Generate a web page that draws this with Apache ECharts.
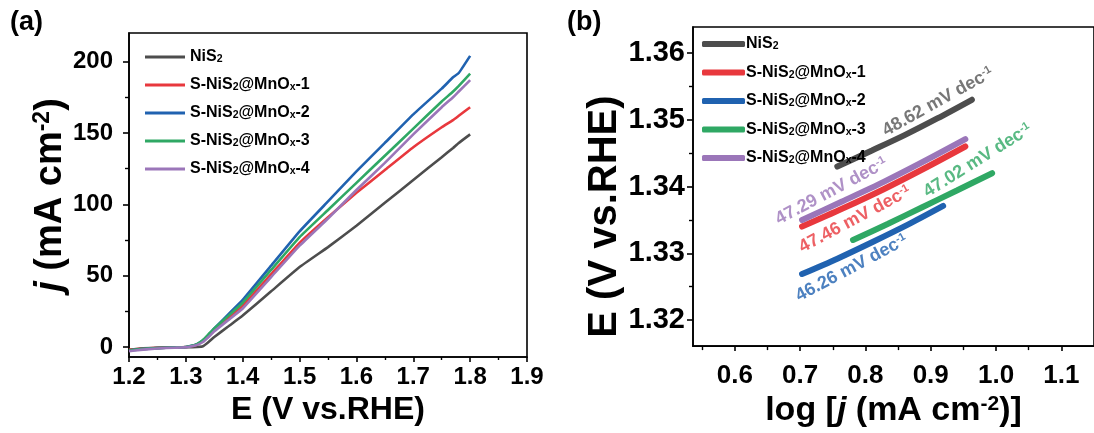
<!DOCTYPE html>
<html><head><meta charset="utf-8">
<script src="https://cdn.jsdelivr.net/npm/echarts@6/dist/echarts.min.js"></script>
<style>html,body{margin:0;padding:0;background:#fff}#c{width:1094px;height:433px}</style>
</head><body><div id="c"></div>
<script>
// ---------- data ----------
const seriesNames = ['NiS2', 'S-NiS2@MnOx-1', 'S-NiS2@MnOx-2', 'S-NiS2@MnOx-3', 'S-NiS2@MnOx-4'];
const seriesColors = ['#4d4d4d', '#e8383d', '#2062b0', '#2fa864', '#9b76b9'];

// (a) LSV curves: potential (V vs. RHE) and current density (mA cm-2)
const potential = [1.20, 1.22, 1.25, 1.28, 1.30, 1.31, 1.32, 1.33, 1.34, 1.35, 1.375, 1.40, 1.45, 1.50, 1.55, 1.60, 1.65, 1.70, 1.75, 1.77, 1.78, 1.80];
const jNiS2 = [-2, -1, -0.5, -0.3, -0.2, -0.1, 0, 0.5, 3.5, 7, 14.5, 22, 39, 56, 70, 85, 101, 117, 133, 139.5, 143, 149];
const jMnOx1 = [-2, -1.2, -0.6, -0.3, 0, 0.6, 1.8, 4, 7.5, 11.5, 20, 29, 51, 73, 91, 108, 124, 140, 154, 159, 162, 168];
const jMnOx2 = [-2.5, -1.5, -0.8, -0.3, 0, 0.8, 2, 4.5, 8.5, 13, 23, 33, 57, 81, 102, 123, 143, 163, 181, 189, 192, 204];
const jMnOx3 = [-2.5, -1.5, -0.8, -0.3, 0, 0.8, 2.2, 5, 9, 13, 22, 31, 54, 77, 96, 115, 134, 153, 172, 179, 183, 191.5];
const jMnOx4 = [-3, -2, -1, -0.5, -0.2, 0.5, 1.5, 3.5, 7, 11, 19, 27, 49, 71, 90, 110, 129, 149, 168, 175, 179, 187];
const lsvCurrents = [jNiS2, jMnOx1, jMnOx2, jMnOx3, jMnOx4];

// (b) Tafel plots: log j and E
const tafelLogJ = [
  [0.757, 0.810, 0.860, 0.910, 0.963],
  [0.703, 0.765, 0.828, 0.890, 0.953],
  [0.703, 0.757, 0.811, 0.865, 0.919],
  [0.781, 0.834, 0.887, 0.940, 0.994],
  [0.703, 0.765, 0.828, 0.890, 0.953]
];
const tafelE = [
  [1.3430, 1.3454, 1.3477, 1.3502, 1.3530],
  [1.3340, 1.3367, 1.3396, 1.3427, 1.3460],
  [1.3269, 1.3292, 1.3317, 1.3343, 1.3371],
  [1.3320, 1.3344, 1.3369, 1.3394, 1.3420],
  [1.3350, 1.3378, 1.3407, 1.3438, 1.3471]
];
const tafelSlopes = ['48.62', '47.46', '46.26', '47.02', '47.29'];
const tafelLabelAt = [[0.911, 1.3527], [0.784, 1.3351], [0.779, 1.3278], [0.972, 1.3439], [0.748, 1.3393]];
const tafelLabelAngle = [29, 28, 28, 32, 28];

// ticks
const aTicksX = [1.2, 1.3, 1.4, 1.5, 1.6, 1.7, 1.8, 1.9];
const aMinorX = [1.25, 1.35, 1.45, 1.55, 1.65, 1.75, 1.85];
const aTicksY = [0, 50, 100, 150, 200];
const aMinorY = [25, 75, 125, 175];
const bTicksX = [0.6, 0.7, 0.8, 0.9, 1.0, 1.1];
const bMinorX = [0.55, 0.65, 0.75, 0.85, 0.95, 1.05];
const bTicksY = [1.32, 1.33, 1.34, 1.35, 1.36];
const bMinorY = [1.325, 1.335, 1.345, 1.355];

// ---------- chart ----------
const FONT = '"Liberation Sans", Arial, sans-serif';
const chart = echarts.init(document.getElementById('c'), null, {renderer: 'canvas'});

function legendFmt(name) {
  return name.replace(/^(S-)?NiS2(@MnO)?x?(-\d)?$/, function (m, a, b, c) {
    let s = '{n|' + (a || '') + 'NiS}{s|2}';
    if (b) s += '{n|@MnO}{s|x}{n|' + c + '}';
    return s;
  });
}
const legendRich = {
  n: {fontSize: 16, fontWeight: 'bold', fontFamily: FONT, color: '#000', lineHeight: 16, verticalAlign: 'top'},
  s: {fontSize: 10.5, fontWeight: 'bold', fontFamily: FONT, color: '#000', lineHeight: 10, verticalAlign: 'bottom', padding: [10, 0, 0, 0]}
};

function baseAxis(grid, min, max, ticks, tickLen, extra) {
  return Object.assign({
    type: 'value', gridIndex: grid, min: min, max: max,
    axisLine: {show: true, onZero: false, lineStyle: {color: '#000', width: 1.6}},
    axisTick: {show: true, inside: false, length: tickLen, customValues: ticks, lineStyle: {color: '#000', width: 1.6}},
    splitLine: {show: false}
  }, extra);
}
function minorAxis(grid, min, max, ticks, tickLen, pos) {
  return {
    type: 'value', gridIndex: grid, min: min, max: max, position: pos,
    axisLine: {show: false, onZero: false},
    axisTick: {show: true, inside: false, length: tickLen, customValues: ticks, lineStyle: {color: '#000', width: 1.4}},
    axisLabel: {show: false}, splitLine: {show: false}
  };
}
function lbl(ticks, margin, fs, fmt) {
  return {show: true, customValues: ticks, margin: margin, fontSize: fs, fontWeight: 'bold', fontFamily: FONT, color: '#000', formatter: fmt};
}

const aXMain = baseAxis(0, 1.2, 1.9, aTicksX, 5, {
  position: 'bottom',
  axisLabel: lbl(aTicksX, 8, 24, v => v.toFixed(1)),
  name: 'E (V vs.RHE)', nameLocation: 'middle', nameGap: 33,
  nameTextStyle: {fontSize: 32, fontWeight: 'bold', fontFamily: FONT, color: '#000'}
});
const aYMain = baseAxis(0, -7, 220, aTicksY, 6, {
  position: 'left',
  axisLabel: lbl(aTicksY, 16, 24, v => String(v)),
  name: '{i|j}{n| (mA cm}{p|-2}{n|)}', nameLocation: 'middle', nameGap: 53,
  nameTextStyle: {fontSize: 38, fontWeight: 'bold', fontFamily: FONT, color: '#000',
    rich: {
      i: {fontSize: 38, fontWeight: 'bold', fontStyle: 'italic', fontFamily: FONT, color: '#000', lineHeight: 38, verticalAlign: 'bottom'},
      n: {fontSize: 38, fontWeight: 'bold', fontFamily: FONT, color: '#000', lineHeight: 38, verticalAlign: 'bottom'},
      p: {fontSize: 23, fontWeight: 'bold', fontFamily: FONT, color: '#000', lineHeight: 23, verticalAlign: 'top'}
    }}
});
const bXMain = baseAxis(1, 0.536, 1.15, bTicksX, 5, {
  position: 'bottom',
  axisLabel: lbl(bTicksX, 17, 26, v => v.toFixed(1)),
  name: '{n|log [}{i|j}{n| (mA cm}{p|-2}{n|)]}', nameLocation: 'middle', nameGap: 35,
  nameTextStyle: {fontSize: 34, fontWeight: 'bold', fontFamily: FONT, color: '#000',
    rich: {
      i: {fontSize: 34, fontWeight: 'bold', fontStyle: 'italic', fontFamily: FONT, color: '#000', lineHeight: 34, verticalAlign: 'bottom'},
      n: {fontSize: 34, fontWeight: 'bold', fontFamily: FONT, color: '#000', lineHeight: 34, verticalAlign: 'bottom'},
      p: {fontSize: 21, fontWeight: 'bold', fontFamily: FONT, color: '#000', lineHeight: 21, verticalAlign: 'top'}
    }}
});
const bYMain = baseAxis(1, 1.3161, 1.3639, bTicksY, 6, {
  position: 'left',
  axisLabel: lbl(bTicksY, 8, 29, v => v.toFixed(2)),
  name: 'E (V vs.RHE)', nameLocation: 'middle', nameGap: 62,
  nameTextStyle: {fontSize: 40, fontWeight: 'bold', fontFamily: FONT, color: '#000', padding: [0, 60, 0, 0]}
});

const series = [];
seriesNames.forEach(function (name, k) {
  series.push({
    name: name, type: 'line', xAxisIndex: 0, yAxisIndex: 0,
    data: potential.map((x, i) => [x, lsvCurrents[k][i]]),
    showSymbol: false, symbol: 'none', smooth: 0.1,
    lineStyle: {color: seriesColors[k], width: 2.6},
    itemStyle: {color: seriesColors[k]},
    animation: false, silent: true
  });
});
seriesNames.forEach(function (name, k) {
  series.push({
    name: name, type: 'line', xAxisIndex: 2, yAxisIndex: 2,
    data: tafelLogJ[k].map((x, i) => [x, tafelE[k][i]]),
    showSymbol: false, symbol: 'none', smooth: 0.3,
    lineStyle: {color: seriesColors[k], width: 6, cap: 'round'},
    itemStyle: {color: seriesColors[k]},
    animation: false, silent: true
  });
});
series.push({
  type: 'scatter', xAxisIndex: 2, yAxisIndex: 2, symbolSize: 0.1, silent: true, animation: false,
  itemStyle: {color: 'rgba(0,0,0,0)'},
  data: tafelSlopes.map(function (s, k) {
    const col = k === 0 ? '#555' : seriesColors[k];
    return {
      value: tafelLabelAt[k],
      label: {
        show: true, position: 'inside', rotate: tafelLabelAngle[k],
        formatter: '{n|' + s + ' mV dec}{p|-1}',
        rich: {
          n: {fontSize: 18, fontWeight: 'bold', fontFamily: FONT, color: col, lineHeight: 18, verticalAlign: 'bottom'},
          p: {fontSize: 11, fontWeight: 'bold', fontFamily: FONT, color: col, lineHeight: 11, verticalAlign: 'top'}
        }
      }
    };
  })
});

chart.setOption({
  animation: false,
  backgroundColor: '#fff',
  title: [
    {text: '(a)', left: 5, top: 4, textStyle: {fontSize: 27, fontWeight: 'bold', fontFamily: FONT, color: '#000'}},
    {text: '(b)', left: 562, top: 4, textStyle: {fontSize: 27, fontWeight: 'bold', fontFamily: FONT, color: '#000'}}
  ],
  grid: [
    {left: 129, top: 33, width: 398, height: 324, show: true, borderColor: '#000', borderWidth: 1.6, backgroundColor: 'transparent'},
    {left: 693, top: 27, width: 404, height: 329, show: true, borderColor: '#000', borderWidth: 1.6, backgroundColor: 'transparent'}
  ],
  xAxis: [aXMain, minorAxis(0, 1.2, 1.9, aMinorX, 3, 'bottom'), bXMain, minorAxis(1, 0.536, 1.15, bMinorX, 4, 'bottom')],
  yAxis: [aYMain, minorAxis(0, -7, 220, aMinorY, 4, 'left'), bYMain, minorAxis(1, 1.3161, 1.3639, bMinorY, 4, 'left')],
  legend: [
    {data: seriesNames, orient: 'vertical', left: 145, top: 44, padding: 0, itemWidth: 40, itemHeight: 3, itemGap: 7, icon: 'rect',
      itemStyle: {borderWidth: 0}, selectedMode: false,
      formatter: legendFmt, textStyle: {rich: legendRich}},
    {data: seriesNames, orient: 'vertical', left: 702, top: 31, padding: 0, itemWidth: 43, itemHeight: 6, itemGap: 7.5, icon: 'roundRect',
      itemStyle: {borderWidth: 0}, selectedMode: false,
      formatter: legendFmt, textStyle: {rich: legendRich, padding: [0, 0, 0, -4]}}
  ],
  series: series
});
</script>
</body></html>
